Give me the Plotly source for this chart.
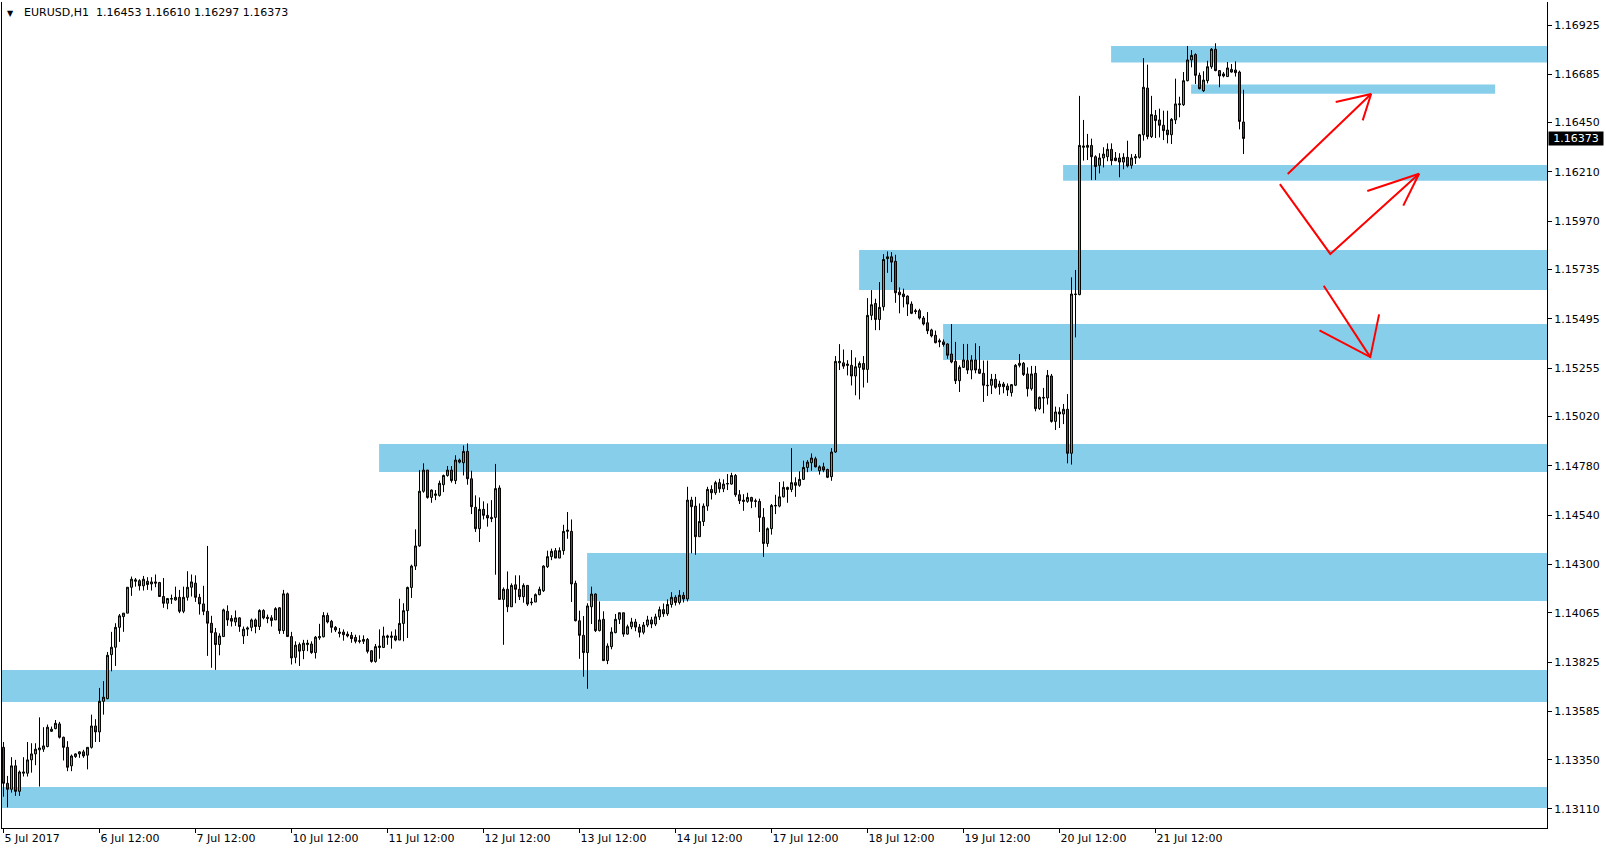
import plotly.graph_objects as go

# ---------------- data (EURUSD H1, bar index 0 = 5 Jul 2017 12:00) ----------------
opens = [
    1.13410, 1.13235, 1.13206, 1.13320, 1.13196, 1.13284, 1.13284, 1.13349, 1.13378, 1.13398,
    1.13401, 1.13414, 1.13488, 1.13501, 1.13524, 1.13459, 1.13410, 1.13320, 1.13365, 1.13378,
    1.13388, 1.13372, 1.13410, 1.13514, 1.13485, 1.13634, 1.13647, 1.13861, 1.13897, 1.13994,
    1.14046, 1.14063, 1.14189, 1.14218, 1.14221, 1.14196, 1.14218, 1.14205, 1.14215, 1.14212,
    1.14144, 1.14111, 1.14131, 1.14127, 1.14140, 1.14072, 1.14140, 1.14189, 1.14209, 1.14140,
    1.14108, 1.14072, 1.14014, 1.13968, 1.13910, 1.13949, 1.14072, 1.14037, 1.14020, 1.14040,
    1.13952, 1.13985, 1.13994, 1.14030, 1.13998, 1.14076, 1.14043, 1.14040, 1.14030, 1.14089,
    1.13978, 1.14157, 1.13949, 1.13848, 1.13910, 1.13881, 1.13910, 1.13913, 1.13871, 1.13943,
    1.13948, 1.14052, 1.14023, 1.13994, 1.13971, 1.13971, 1.13961, 1.13955, 1.13945, 1.13929,
    1.13926, 1.13935, 1.13880, 1.13828, 1.13896, 1.13896, 1.13945, 1.13945, 1.13952, 1.13932,
    1.14013, 1.14075, 1.14188, 1.14292, 1.14390, 1.14656, 1.14759, 1.14626, 1.14636, 1.14636,
    1.14688, 1.14733, 1.14759, 1.14708, 1.14798, 1.14795, 1.14850, 1.14717, 1.14578, 1.14474,
    1.14568, 1.14539, 1.14529, 1.14529, 1.14672, 1.14130, 1.14179, 1.14094, 1.14201, 1.14179,
    1.14143, 1.14198, 1.14117, 1.14117, 1.14153, 1.14172, 1.14289, 1.14338, 1.14367, 1.14331,
    1.14367, 1.14461, 1.14461, 1.14208, 1.14026, 1.13955, 1.13871, 1.14094, 1.14156, 1.13978,
    1.14033, 1.13832, 1.13900, 1.13968, 1.14033, 1.14065, 1.13961, 1.13997, 1.14020, 1.13995,
    1.13970, 1.14005, 1.14030, 1.14010, 1.14045, 1.14080, 1.14060, 1.14105, 1.14140, 1.14115,
    1.14150, 1.14132, 1.14613, 1.14584, 1.14435, 1.14509, 1.14584, 1.14665, 1.14649, 1.14698,
    1.14668, 1.14691, 1.14691, 1.14733, 1.14639, 1.14613, 1.14607, 1.14626, 1.14610, 1.14607,
    1.14529, 1.14402, 1.14474, 1.14584, 1.14584, 1.14629, 1.14675, 1.14665, 1.14698, 1.14685,
    1.14714, 1.14772, 1.14795, 1.14814, 1.14756, 1.14775, 1.14762, 1.14727, 1.14847, 1.15281,
    1.15281, 1.15275, 1.15269, 1.15217, 1.15259, 1.15278, 1.15249, 1.15512, 1.15570, 1.15492,
    1.15554, 1.15788, 1.15797, 1.15775, 1.15625, 1.15616, 1.15606, 1.15567, 1.15535, 1.15535,
    1.15499, 1.15476, 1.15441, 1.15415, 1.15389, 1.15383, 1.15373, 1.15324, 1.15288, 1.15194,
    1.15259, 1.15292, 1.15246, 1.15295, 1.15250, 1.15230, 1.15172, 1.15172, 1.15201, 1.15165,
    1.15178, 1.15168, 1.15136, 1.15172, 1.15269, 1.15279, 1.15227, 1.15155, 1.15230, 1.15058,
    1.15113, 1.15110, 1.15217, 1.14996, 1.15042, 1.15032, 1.15055, 1.14841, 1.15616, 1.15613,
    1.16330, 1.16330, 1.16339, 1.16284, 1.16242, 1.16278, 1.16284, 1.16320, 1.16278, 1.16278,
    1.16258, 1.16281, 1.16242, 1.16278, 1.16281, 1.16391, 1.16618, 1.16382, 1.16485, 1.16463,
    1.16437, 1.16414, 1.16391, 1.16463, 1.16537, 1.16537, 1.16654, 1.16755, 1.16781, 1.16680,
    1.16605, 1.16654, 1.16722, 1.16807, 1.16703, 1.16687, 1.16674, 1.16709, 1.16706, 1.16696,
    1.16453,
]
highs = [
    1.13436, 1.13271, 1.13362, 1.13349, 1.13297, 1.13362, 1.13436, 1.13430, 1.13430, 1.13556,
    1.13508, 1.13521, 1.13511, 1.13543, 1.13534, 1.13462, 1.13440, 1.13375, 1.13381, 1.13391,
    1.13398, 1.13410, 1.13569, 1.13547, 1.13699, 1.13732, 1.13874, 1.13972, 1.14014, 1.14059,
    1.14063, 1.14189, 1.14241, 1.14234, 1.14228, 1.14244, 1.14238, 1.14238, 1.14251, 1.14215,
    1.14234, 1.14137, 1.14153, 1.14192, 1.14176, 1.14192, 1.14267, 1.14251, 1.14247, 1.14157,
    1.14196, 1.14390, 1.14050, 1.13991, 1.13965, 1.14085, 1.14101, 1.14053, 1.14076, 1.14043,
    1.13998, 1.13998, 1.14037, 1.14037, 1.14082, 1.14082, 1.14056, 1.14053, 1.14092, 1.14092,
    1.14176, 1.14163, 1.13972, 1.13926, 1.13920, 1.13933, 1.13933, 1.13926, 1.13952, 1.14011,
    1.14068, 1.14065, 1.14030, 1.14000, 1.13991, 1.13984, 1.13974, 1.13971, 1.13958, 1.13955,
    1.13955, 1.13942, 1.13883, 1.13913, 1.13984, 1.13997, 1.13958, 1.13974, 1.13984, 1.14133,
    1.14111, 1.14192, 1.14299, 1.14471, 1.14759, 1.14792, 1.14759, 1.14665, 1.14662, 1.14708,
    1.14737, 1.14779, 1.14779, 1.14831, 1.14815, 1.14879, 1.14889, 1.14756, 1.14636, 1.14626,
    1.14607, 1.14597, 1.14613, 1.14789, 1.14685, 1.14188, 1.14266, 1.14208, 1.14247, 1.14247,
    1.14208, 1.14198, 1.14137, 1.14159, 1.14192, 1.14296, 1.14367, 1.14377, 1.14380, 1.14383,
    1.14493, 1.14555, 1.14519, 1.14221, 1.14075, 1.14049, 1.14111, 1.14192, 1.14159, 1.14120,
    1.14072, 1.13916, 1.13994, 1.14059, 1.14065, 1.14065, 1.14007, 1.14040, 1.14035, 1.14010,
    1.14020, 1.14050, 1.14045, 1.14060, 1.14095, 1.14110, 1.14130, 1.14165, 1.14150, 1.14175,
    1.14165, 1.14678, 1.14629, 1.14629, 1.14597, 1.14597, 1.14678, 1.14685, 1.14707, 1.14717,
    1.14714, 1.14740, 1.14746, 1.14740, 1.14662, 1.14642, 1.14649, 1.14629, 1.14620, 1.14620,
    1.14574, 1.14480, 1.14594, 1.14639, 1.14701, 1.14704, 1.14678, 1.14866, 1.14724, 1.14753,
    1.14805, 1.14808, 1.14840, 1.14824, 1.14782, 1.14795, 1.14766, 1.14866, 1.15314, 1.15372,
    1.15346, 1.15294, 1.15343, 1.15307, 1.15288, 1.15314, 1.15596, 1.15635, 1.15593, 1.15674,
    1.15810, 1.15823, 1.15820, 1.15807, 1.15648, 1.15642, 1.15609, 1.15580, 1.15544, 1.15544,
    1.15509, 1.15528, 1.15447, 1.15438, 1.15399, 1.15395, 1.15376, 1.15470, 1.15383, 1.15269,
    1.15373, 1.15373, 1.15318, 1.15376, 1.15363, 1.15292, 1.15292, 1.15227, 1.15227, 1.15194,
    1.15188, 1.15181, 1.15178, 1.15275, 1.15324, 1.15285, 1.15259, 1.15266, 1.15266, 1.15117,
    1.15159, 1.15246, 1.15227, 1.15068, 1.15065, 1.15081, 1.15129, 1.15697, 1.15733, 1.16580,
    1.16463, 1.16395, 1.16372, 1.16291, 1.16301, 1.16330, 1.16349, 1.16349, 1.16307, 1.16301,
    1.16301, 1.16362, 1.16297, 1.16297, 1.16395, 1.16764, 1.16732, 1.16580, 1.16511, 1.16518,
    1.16508, 1.16508, 1.16472, 1.16664, 1.16576, 1.16696, 1.16823, 1.16803, 1.16787, 1.16693,
    1.16700, 1.16751, 1.16813, 1.16836, 1.16706, 1.16696, 1.16745, 1.16735, 1.16748, 1.16703,
    1.16610,
]
lows = [
    1.13170, 1.13118, 1.13190, 1.13174, 1.13174, 1.13268, 1.13268, 1.13287, 1.13323, 1.13219,
    1.13388, 1.13410, 1.13485, 1.13498, 1.13453, 1.13346, 1.13294, 1.13294, 1.13359, 1.13359,
    1.13359, 1.13303, 1.13404, 1.13436, 1.13436, 1.13569, 1.13644, 1.13780, 1.13806, 1.13923,
    1.13972, 1.14063, 1.14147, 1.14192, 1.14173, 1.14173, 1.14176, 1.14173, 1.14189, 1.14144,
    1.14089, 1.14082, 1.14108, 1.14124, 1.14063, 1.14063, 1.14124, 1.14144, 1.14118, 1.14056,
    1.14053, 1.13855, 1.13797, 1.13787, 1.13858, 1.13949, 1.14001, 1.13998, 1.14001, 1.13972,
    1.13913, 1.13952, 1.13975, 1.13965, 1.13981, 1.14033, 1.14014, 1.13998, 1.14030, 1.13962,
    1.13962, 1.13949, 1.13813, 1.13819, 1.13806, 1.13839, 1.13878, 1.13865, 1.13842, 1.13933,
    1.13945, 1.14013, 1.13968, 1.13971, 1.13945, 1.13929, 1.13945, 1.13919, 1.13916, 1.13916,
    1.13913, 1.13867, 1.13822, 1.13822, 1.13841, 1.13893, 1.13909, 1.13890, 1.13926, 1.13932,
    1.13926, 1.13942, 1.14137, 1.14273, 1.14386, 1.14649, 1.14620, 1.14600, 1.14613, 1.14630,
    1.14652, 1.14727, 1.14698, 1.14691, 1.14792, 1.14733, 1.14688, 1.14545, 1.14458, 1.14409,
    1.14519, 1.14484, 1.14506, 1.14250, 1.14130, 1.13909, 1.14068, 1.14094, 1.14111, 1.14127,
    1.14114, 1.14098, 1.14101, 1.14117, 1.14150, 1.14166, 1.14283, 1.14321, 1.14331, 1.14331,
    1.14347, 1.14425, 1.14117, 1.14023, 1.13841, 1.13754, 1.13695, 1.14010, 1.13971, 1.13974,
    1.13832, 1.13815, 1.13887, 1.13965, 1.14010, 1.13948, 1.13958, 1.13985, 1.13975, 1.13945,
    1.13960, 1.13995, 1.13990, 1.14000, 1.14030, 1.14045, 1.14050, 1.14090, 1.14100, 1.14105,
    1.14115, 1.14120, 1.14354, 1.14347, 1.14435, 1.14487, 1.14561, 1.14616, 1.14639, 1.14649,
    1.14652, 1.14662, 1.14688, 1.14629, 1.14594, 1.14561, 1.14600, 1.14574, 1.14578, 1.14458,
    1.14337, 1.14386, 1.14445, 1.14545, 1.14578, 1.14626, 1.14600, 1.14652, 1.14629, 1.14678,
    1.14711, 1.14749, 1.14756, 1.14772, 1.14737, 1.14749, 1.14720, 1.14707, 1.14843, 1.15246,
    1.15252, 1.15220, 1.15171, 1.15123, 1.15103, 1.15161, 1.15184, 1.15489, 1.15440, 1.15440,
    1.15535, 1.15719, 1.15674, 1.15573, 1.15522, 1.15551, 1.15509, 1.15518, 1.15518, 1.15492,
    1.15463, 1.15421, 1.15405, 1.15376, 1.15357, 1.15360, 1.15301, 1.15279, 1.15178, 1.15139,
    1.15256, 1.15227, 1.15201, 1.15230, 1.15227, 1.15091, 1.15120, 1.15129, 1.15155, 1.15126,
    1.15133, 1.15120, 1.15117, 1.15168, 1.15259, 1.15217, 1.15117, 1.15146, 1.15045, 1.15052,
    1.15035, 1.15078, 1.14990, 1.14954, 1.14964, 1.14983, 1.14792, 1.14786, 1.15405, 1.15610,
    1.16265, 1.16268, 1.16171, 1.16171, 1.16203, 1.16232, 1.16262, 1.16242, 1.16262, 1.16184,
    1.16223, 1.16232, 1.16226, 1.16249, 1.16275, 1.16362, 1.16369, 1.16375, 1.16375, 1.16378,
    1.16365, 1.16349, 1.16346, 1.16443, 1.16476, 1.16531, 1.16651, 1.16719, 1.16638, 1.16612,
    1.16599, 1.16641, 1.16712, 1.16700, 1.16622, 1.16670, 1.16674, 1.16693, 1.16674, 1.16417,
    1.16297,
]
closes = [
    1.13235, 1.13206, 1.13320, 1.13196, 1.13290, 1.13290, 1.13349, 1.13378, 1.13401, 1.13407,
    1.13417, 1.13508, 1.13498, 1.13527, 1.13459, 1.13410, 1.13313, 1.13368, 1.13378, 1.13388,
    1.13368, 1.13410, 1.13514, 1.13485, 1.13634, 1.13654, 1.13858, 1.13897, 1.13994, 1.14050,
    1.14063, 1.14189, 1.14228, 1.14225, 1.14196, 1.14228, 1.14202, 1.14215, 1.14209, 1.14144,
    1.14111, 1.14134, 1.14134, 1.14140, 1.14072, 1.14140, 1.14189, 1.14215, 1.14140, 1.14108,
    1.14072, 1.14014, 1.13968, 1.13910, 1.13952, 1.14079, 1.14030, 1.14024, 1.14040, 1.13998,
    1.13985, 1.13991, 1.14030, 1.13998, 1.14076, 1.14040, 1.14037, 1.14027, 1.14085, 1.13978,
    1.14157, 1.13949, 1.13845, 1.13907, 1.13878, 1.13917, 1.13917, 1.13871, 1.13946, 1.13949,
    1.14052, 1.14020, 1.13994, 1.13981, 1.13965, 1.13958, 1.13952, 1.13939, 1.13926, 1.13926,
    1.13935, 1.13877, 1.13828, 1.13900, 1.13903, 1.13952, 1.13952, 1.13952, 1.13932, 1.14013,
    1.14075, 1.14188, 1.14292, 1.14390, 1.14656, 1.14759, 1.14626, 1.14662, 1.14643, 1.14695,
    1.14733, 1.14759, 1.14708, 1.14808, 1.14808, 1.14850, 1.14717, 1.14581, 1.14474, 1.14568,
    1.14539, 1.14526, 1.14523, 1.14669, 1.14130, 1.14179, 1.14094, 1.14198, 1.14179, 1.14143,
    1.14198, 1.14107, 1.14114, 1.14153, 1.14179, 1.14292, 1.14338, 1.14364, 1.14331, 1.14367,
    1.14461, 1.14467, 1.14205, 1.14026, 1.13955, 1.13871, 1.14098, 1.14156, 1.13978, 1.14030,
    1.13832, 1.13903, 1.13971, 1.14033, 1.14065, 1.13961, 1.13997, 1.14020, 1.13995, 1.13970,
    1.14005, 1.14030, 1.14010, 1.14045, 1.14080, 1.14060, 1.14105, 1.14140, 1.14115, 1.14150,
    1.14132, 1.14613, 1.14581, 1.14435, 1.14509, 1.14584, 1.14665, 1.14649, 1.14698, 1.14668,
    1.14691, 1.14694, 1.14733, 1.14639, 1.14610, 1.14607, 1.14626, 1.14607, 1.14607, 1.14529,
    1.14402, 1.14474, 1.14587, 1.14587, 1.14629, 1.14675, 1.14665, 1.14698, 1.14685, 1.14714,
    1.14772, 1.14798, 1.14818, 1.14775, 1.14775, 1.14759, 1.14724, 1.14847, 1.15288, 1.15288,
    1.15265, 1.15269, 1.15217, 1.15262, 1.15278, 1.15249, 1.15512, 1.15564, 1.15492, 1.15551,
    1.15784, 1.15797, 1.15771, 1.15622, 1.15612, 1.15603, 1.15567, 1.15522, 1.15531, 1.15499,
    1.15470, 1.15437, 1.15412, 1.15379, 1.15383, 1.15370, 1.15318, 1.15285, 1.15194, 1.15259,
    1.15295, 1.15246, 1.15295, 1.15246, 1.15230, 1.15172, 1.15170, 1.15201, 1.15162, 1.15178,
    1.15165, 1.15149, 1.15175, 1.15269, 1.15279, 1.15224, 1.15155, 1.15227, 1.15058, 1.15113,
    1.15110, 1.15220, 1.14996, 1.15042, 1.15032, 1.15055, 1.14841, 1.15616, 1.15614, 1.16339,
    1.16336, 1.16339, 1.16284, 1.16236, 1.16278, 1.16297, 1.16320, 1.16265, 1.16265, 1.16258,
    1.16281, 1.16239, 1.16278, 1.16284, 1.16391, 1.16622, 1.16382, 1.16489, 1.16460, 1.16437,
    1.16411, 1.16391, 1.16466, 1.16541, 1.16541, 1.16654, 1.16755, 1.16777, 1.16680, 1.16615,
    1.16657, 1.16722, 1.16807, 1.16703, 1.16677, 1.16677, 1.16716, 1.16696, 1.16693, 1.16456,
    1.16373,
]
bar_index = list(range(len(opens)))

# time axis labels (bar index of each label)
time_tick_bars = [0, 24, 48, 72, 96, 120, 144, 168, 192, 216, 240, 264, 288]
time_tick_labels = ["5 Jul 2017", "6 Jul 12:00", "7 Jul 12:00", "10 Jul 12:00", "11 Jul 12:00",
                    "12 Jul 12:00", "13 Jul 12:00", "14 Jul 12:00", "17 Jul 12:00", "18 Jul 12:00",
                    "19 Jul 12:00", "20 Jul 12:00", "21 Jul 12:00"]

price_ticks = [1.16925, 1.16685, 1.16450, 1.16210, 1.15970, 1.15735, 1.15495, 1.15255, 1.15020,
               1.14780, 1.14540, 1.14300, 1.14065, 1.13825, 1.13585, 1.13350, 1.13110]

# supply / demand zones: start bar, end bar, low price, high price
zone_start = [276.9, 296.9, 264.9, 213.9, 234.9, 93.9, 145.9, -5, -5]
zone_end = [400, 372.9, 400, 400, 400, 400, 400, 400, 400]
zone_low = [1.16742, 1.16591, 1.16167, 1.15635, 1.15295, 1.14750, 1.14122, 1.13631, 1.13115]
zone_high = [1.16823, 1.16636, 1.16244, 1.15830, 1.15470, 1.14886, 1.14356, 1.13786, 1.13217]

# hand drawn red arrows (bar index, price)
arrow_a_x = [321.05, 341.9, None, 333.05, 341.9, 339.8]
arrow_a_y = [1.16200, 1.16589, None, 1.16550, 1.16589, 1.16461]
arrow_b_x = [319.1, 331.7, 353.9, None, 340.95, 353.9, 349.95]
arrow_b_y = [1.16151, 1.15811, 1.16201, None, 1.16117, 1.16201, 1.16046]
arrow_c_x = [330.05, 341.7, None, 329.0, 341.7, 343.9]
arrow_c_y = [1.15656, 1.15309, None, 1.15439, 1.15309, 1.15517]

symbol_title = "EURUSD,H1\u00a0 1.16453 1.16610 1.16297 1.16373"
last_price = 1.16373

FONT = "DejaVu Sans"
fig = go.Figure()

for x0, x1, y0, y1 in zip(zone_start, zone_end, zone_low, zone_high):
    fig.add_shape(type="rect", xref="x", yref="y", x0=x0, x1=x1, y0=y0, y1=y1,
                  fillcolor="#87CEEB", line=dict(width=0), layer="below")

fig.add_trace(go.Candlestick(
    x=bar_index, open=opens, high=highs, low=lows, close=closes,
    increasing=dict(fillcolor="#22dd22", line=dict(color="black", width=1)),
    decreasing=dict(fillcolor="#e01818", line=dict(color="black", width=1)),
    whiskerwidth=0, showlegend=False, hoverinfo="skip",
))

for ax, ay in [(arrow_a_x, arrow_a_y), (arrow_b_x, arrow_b_y), (arrow_c_x, arrow_c_y)]:
    fig.add_trace(go.Scatter(x=ax, y=ay, mode="lines", line=dict(color="#ff0000", width=2),
                             showlegend=False, hoverinfo="skip", connectgaps=False))

W, H = 1606, 852
ML, MR, MT, MB = 2, 59, 2, 24

fig.update_layout(
    width=W, height=H,
    margin=dict(l=ML, r=MR, t=MT, b=MB, pad=0),
    paper_bgcolor="white", plot_bgcolor="white",
    boxgap=0.3,
    hovermode=False,
    font=dict(family=FONT, size=11, color="black"),
    showlegend=False,
)
fig.update_xaxes(
    range=[-0.375, 385.875], showgrid=False, zeroline=False,
    showline=True, linecolor="black", linewidth=1,
    ticks="outside", ticklen=4, tickcolor="black", tickwidth=1,
    tickvals=time_tick_bars, ticktext=time_tick_labels,
    ticklabelposition="outside right",
    tickfont=dict(family=FONT, size=11, color="black"),
    rangeslider=dict(visible=False), fixedrange=True,
)
fig.update_yaxes(
    range=[1.130175, 1.170369], side="right", showgrid=False, zeroline=False,
    showline=True, linecolor="black", linewidth=1, mirror=True,
    ticks="outside", ticklen=4, tickcolor="black", tickwidth=1,
    tickvals=price_ticks, ticktext=[f"{v:.5f}" for v in price_ticks],
    tickfont=dict(family=FONT, size=11, color="black"),
    fixedrange=True,
)

# title text (top-left)
fig.add_annotation(xref="paper", yref="paper", x=20 / 1545, y=1 - 10 / 826,
                   text=symbol_title, showarrow=False, xanchor="left", yanchor="middle",
                   font=dict(family=FONT, size=11, color="black"))
fig.add_annotation(xref="paper", yref="paper", x=3 / 1545, y=1 - 11 / 826,
                   text="\u25bc", showarrow=False, xanchor="left", yanchor="middle",
                   font=dict(family=FONT, size=8, color="black"))

# current price label
fig.add_annotation(xref="paper", yref="y", x=1, y=last_price, text=f"{last_price:.5f}",
                   showarrow=False, xanchor="left", yanchor="middle", xshift=1,
                   bgcolor="black", font=dict(family=FONT, size=11, color="white"),
                   width=54, height=13, borderpad=0, align="center")

fig.write_html("out.html", config={"displayModeBar": False},
               post_script="document.body.style.margin='0';document.body.style.overflow='hidden';")
